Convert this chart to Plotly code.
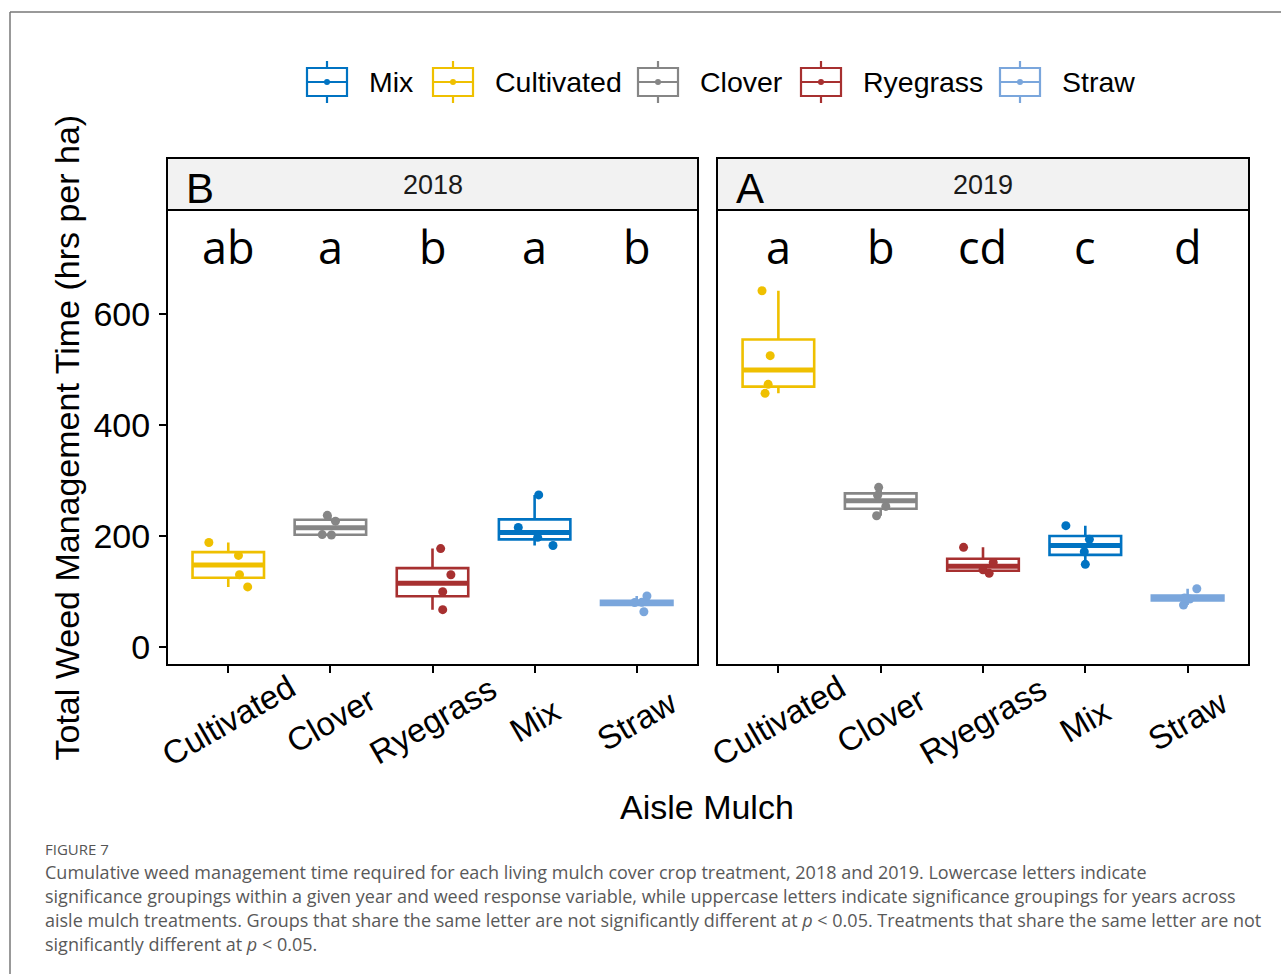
import numpy as np
import plotly.graph_objects as go

# ---------------- data ----------------
categories = ["Cultivated", "Clover", "Ryegrass", "Mix", "Straw"]
years = ["2018", "2019"]
panel_letters = ["B", "A"]
sig_2018 = ["ab", "a", "b", "a", "b"]
sig_2019 = ["a", "b", "cd", "c", "d"]

cultivated_2018 = [108.3, 130.3, 165.1, 188.4]
clover_2018 = [201.8, 202.6, 226.8, 237.3]
ryegrass_2018 = [67.3, 99.7, 130.3, 177.4]
mix_2018 = [182.9, 197.6, 215.3, 274.0]
straw_2018 = [63.6, 80.0, 80.5, 91.9]

cultivated_2019 = [457.1, 473.3, 524.9, 642.0]
clover_2019 = [236.6, 253.4, 273.3, 287.7]
ryegrass_2019 = [132.8, 139.1, 152.3, 179.6]
mix_2019 = [149.0, 171.7, 194.0, 218.6]
straw_2019 = [75.7, 86.5, 88.5, 105.0]

legend_order = ["Mix", "Cultivated", "Clover", "Ryegrass", "Straw"]
y_ticks = [0, 200, 400, 600]

# ---------------- styles ----------------
colors = {"Mix": "#0073C2", "Cultivated": "#EFC000", "Clover": "#868686",
          "Ryegrass": "#A73030", "Straw": "#7AA6DC"}
# horizontal jitter of the plotted points (x offset, category units)
jitter = {
    ("2018", "Cultivated"): [0.19, 0.11, 0.10, -0.19],
    ("2018", "Clover"): [0.01, -0.08, 0.05, -0.03],
    ("2018", "Ryegrass"): [0.10, 0.10, 0.18, 0.08],
    ("2018", "Mix"): [0.18, 0.03, -0.16, 0.04],
    ("2018", "Straw"): [0.07, -0.02, 0.05, 0.10],
    ("2019", "Cultivated"): [-0.13, -0.10, -0.08, -0.16],
    ("2019", "Clover"): [-0.04, 0.05, -0.03, -0.02],
    ("2019", "Ryegrass"): [0.06, 0.00, 0.10, -0.19],
    ("2019", "Mix"): [0.00, -0.01, 0.04, -0.19],
    ("2019", "Straw"): [-0.04, 0.02, -0.03, 0.09],
}
data = {
    ("2018", "Cultivated"): cultivated_2018, ("2018", "Clover"): clover_2018,
    ("2018", "Ryegrass"): ryegrass_2018, ("2018", "Mix"): mix_2018,
    ("2018", "Straw"): straw_2018,
    ("2019", "Cultivated"): cultivated_2019, ("2019", "Clover"): clover_2019,
    ("2019", "Ryegrass"): ryegrass_2019, ("2019", "Mix"): mix_2019,
    ("2019", "Straw"): straw_2019,
}
W, H = 1281, 974
FONT = "Liberation Sans, Arial, Helvetica, sans-serif"
BOXW = 0.70


def px(x):
    return x / W


def py(y):
    return 1 - y / H


panel_x = [(167, 698), (717, 1249)]
plot_top, plot_bot = 210, 665
strip_top = 158

fig = go.Figure()

for k, yr in enumerate(years):
    xa = "x" if k == 0 else "x2"
    ya = "y" if k == 0 else "y2"
    for i, cat in enumerate(categories):
        v = np.array(data[(yr, cat)], dtype=float)
        q1, med, q3 = np.percentile(v, [25, 50, 75])
        iqr = q3 - q1
        inside = v[(v >= q1 - 1.5 * iqr) & (v <= q3 + 1.5 * iqr)]
        lo = min(inside.min(), q1)
        hi = max(inside.max(), q3)
        c = colors[cat]
        fig.add_trace(go.Box(
            x=[i], q1=[q1], median=[med], q3=[q3], lowerfence=[lo], upperfence=[hi],
            width=BOXW, line=dict(color=c, width=2.6), fillcolor="white",
            whiskerwidth=0, boxpoints=False, showlegend=False, hoverinfo="skip",
            xaxis=xa, yaxis=ya))
        fig.add_trace(go.Scatter(
            x=[i - BOXW / 2, i + BOXW / 2], y=[med, med], mode="lines",
            line=dict(color=c, width=5), showlegend=False, hoverinfo="skip",
            xaxis=xa, yaxis=ya))
        fig.add_trace(go.Scatter(
            x=[i + j for j in jitter[(yr, cat)]], y=v, mode="markers",
            marker=dict(color=c, size=9), showlegend=False,
            xaxis=xa, yaxis=ya))

shapes = []
annotations = []

# outer figure frame
shapes.append(dict(type="line", xref="paper", yref="paper", x0=px(10), x1=1.0,
                   y0=py(12), y1=py(12), line=dict(color="#777777", width=1.5)))
shapes.append(dict(type="line", xref="paper", yref="paper", x0=px(10), x1=px(10),
                   y0=py(12), y1=0, line=dict(color="#777777", width=1.5)))

for k, yr in enumerate(years):
    x0, x1 = panel_x[k]
    # strip
    shapes.append(dict(type="rect", xref="paper", yref="paper", x0=px(x0), x1=px(x1),
                       y0=py(plot_top), y1=py(strip_top), fillcolor="#F2F2F2",
                       line=dict(color="black", width=2), layer="below"))
    # panel border
    shapes.append(dict(type="rect", xref="paper", yref="paper", x0=px(x0), x1=px(x1),
                       y0=py(plot_bot), y1=py(plot_top),
                       line=dict(color="black", width=2)))
    annotations.append(dict(text=yr, xref="paper", yref="paper", x=px((x0 + x1) / 2),
                            y=py(185), showarrow=False, xanchor="center", yanchor="middle",
                            font=dict(family=FONT, size=27, color="#1a1a1a")))
    annotations.append(dict(text=panel_letters[k], xref="paper", yref="paper",
                            x=px(x0 + 17), y=py(189), showarrow=False, xanchor="left",
                            yanchor="middle", font=dict(family=FONT, size=42, color="black")))
    xa = "x" if k == 0 else "x2"
    ya = "y" if k == 0 else "y2"
    sig = sig_2018 if k == 0 else sig_2019
    for i, cat in enumerate(categories):
        annotations.append(dict(text=sig[i], xref=xa, yref=ya, x=i, y=722,
                                showarrow=False, xanchor="center", yanchor="middle",
                                font=dict(family="Open Sans, Noto Sans, sans-serif",
                                          size=45, color="black")))
        annotations.append(dict(text=cat, xref=xa, yref="paper", x=i, y=py(720),
                                showarrow=False, xanchor="center", yanchor="middle",
                                textangle=-30,
                                font=dict(family=FONT, size=33, color="black")))

# axis titles
annotations.append(dict(text="Total Weed Management Time (hrs per ha)", xref="paper",
                        yref="paper", x=px(66), y=py((plot_top + plot_bot) / 2),
                        textangle=-90, showarrow=False, xanchor="center", yanchor="middle",
                        font=dict(family=FONT, size=34, color="black")))
annotations.append(dict(text="Aisle Mulch", xref="paper", yref="paper", x=px(707),
                        y=py(807), showarrow=False, xanchor="center", yanchor="middle",
                        font=dict(family=FONT, size=34, color="black")))

# custom legend (ggplot style box keys)
legend_icon_left = [307, 433, 638, 801, 1000]
for name, xl in zip(legend_order, legend_icon_left):
    c = colors[name]
    xc = xl + 20
    shapes.append(dict(type="line", xref="paper", yref="paper", x0=px(xc), x1=px(xc),
                       y0=py(61), y1=py(103), line=dict(color=c, width=2.2)))
    shapes.append(dict(type="rect", xref="paper", yref="paper", x0=px(xl), x1=px(xl + 40),
                       y0=py(96), y1=py(68), fillcolor="white", line=dict(color=c, width=2.2)))
    shapes.append(dict(type="line", xref="paper", yref="paper", x0=px(xl), x1=px(xl + 40),
                       y0=py(82), y1=py(82), line=dict(color=c, width=2.2)))
    shapes.append(dict(type="circle", xref="paper", yref="paper", x0=px(xc - 3),
                       x1=px(xc + 3), y0=py(85), y1=py(79), fillcolor=c,
                       line=dict(color=c, width=0)))
    annotations.append(dict(text=name, xref="paper", yref="paper", x=px(xl + 60), y=py(82),
                            showarrow=False, xanchor="left", yanchor="middle",
                            font=dict(family=FONT, size=28.5, color="black")))

# caption
CAP = "Open Sans, Noto Sans, sans-serif"
annotations.append(dict(text="FIGURE 7", xref="paper", yref="paper", x=px(43), y=py(849),
                        showarrow=False, xanchor="left", yanchor="middle",
                        font=dict(family=CAP, size=15, color="#555555")))
caption_lines = [
    "Cumulative weed management time required for each living mulch cover crop treatment, 2018 and 2019. Lowercase letters indicate",
    "significance groupings within a given year and weed response variable, while uppercase letters indicate significance groupings for years across",
    "aisle mulch treatments. Groups that share the same letter are not significantly different at <i>p</i> &lt; 0.05. Treatments that share the same letter are not",
    "significantly different at <i>p</i> &lt; 0.05.",
]
for n, line in enumerate(caption_lines):
    annotations.append(dict(text=line, xref="paper", yref="paper", x=px(43),
                            y=py(872 + 24 * n), showarrow=False, xanchor="left",
                            yanchor="middle",
                            font=dict(family=CAP, size=18, color="#595959")))

yrange = [-32.4, 787.4]
axis_common = dict(range=[-0.6, 4.6], showgrid=False, zeroline=False, showline=False,
                   ticks="outside", ticklen=7, tickwidth=1.5, tickcolor="black",
                   tickvals=list(range(len(categories))), showticklabels=False,
                   fixedrange=True)
fig.update_layout(
    width=W, height=H, margin=dict(l=0, r=0, t=0, b=0),
    paper_bgcolor="white", plot_bgcolor="white", showlegend=False,
    xaxis=dict(domain=[px(panel_x[0][0]), px(panel_x[0][1])], **axis_common),
    xaxis2=dict(domain=[px(panel_x[1][0]), px(panel_x[1][1])], **axis_common),
    yaxis=dict(domain=[py(plot_bot), py(plot_top)], range=yrange, showgrid=False,
               zeroline=False, ticks="outside", ticklen=7, tickwidth=1.5,
               tickcolor="black", tickvals=y_ticks, ticklabelstandoff=2,
               tickfont=dict(family=FONT, size=34, color="black"), anchor="x",
               automargin=False),
    yaxis2=dict(domain=[py(plot_bot), py(plot_top)], range=yrange, showgrid=False,
                zeroline=False, showticklabels=False, ticks="", anchor="x2",
                matches="y"),
    shapes=shapes, annotations=annotations,
)

fig.write_html("out.html", config={"displayModeBar": False},
               post_script="document.body.style.margin='0';document.body.style.overflow='hidden';")
